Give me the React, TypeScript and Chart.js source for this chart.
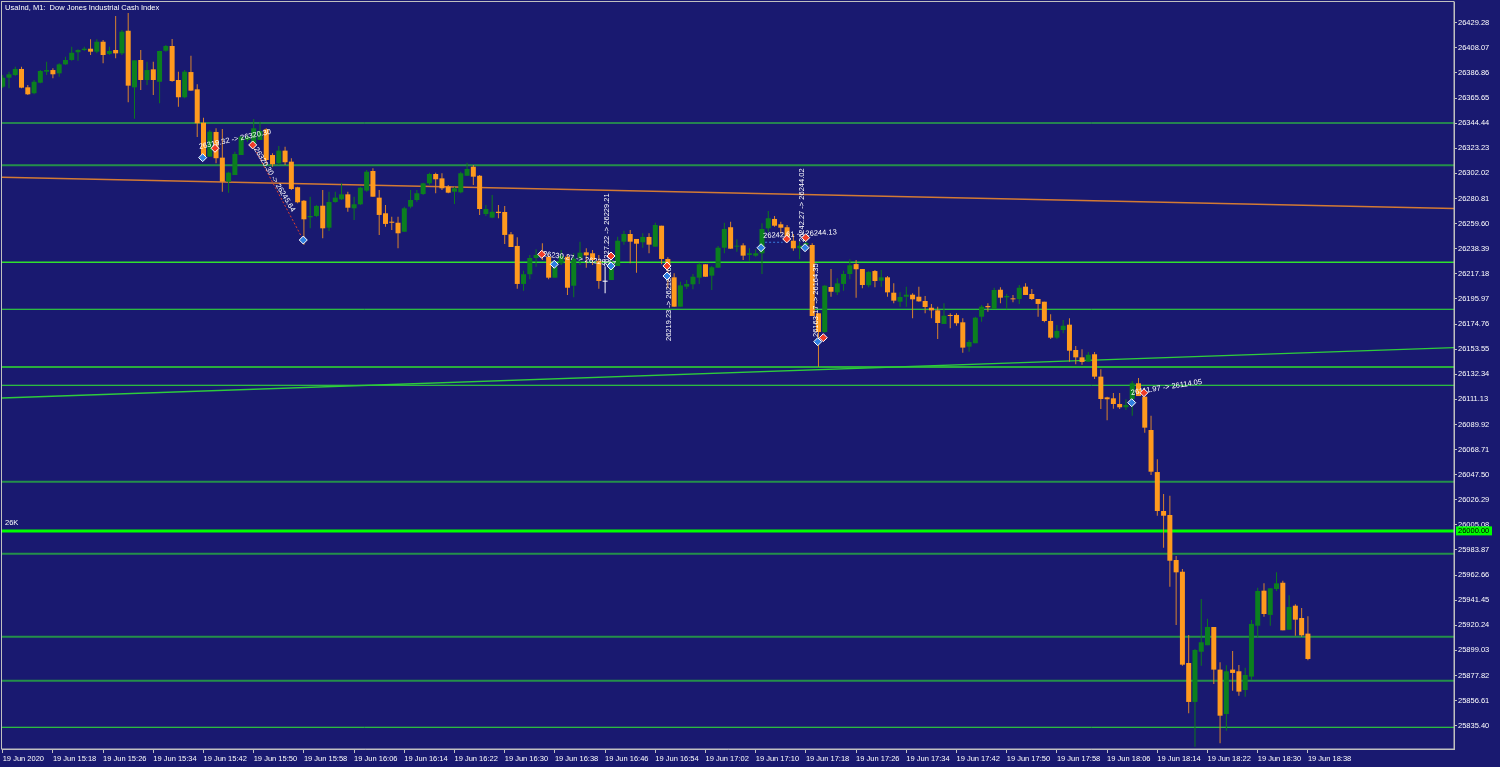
import { useEffect, useRef } from "react";
import { Chart, registerables } from "chart.js";

Chart.register(...registerables);

// ---- Candle data (USA30 / Dow Jones, M1, 19 Jun 2020 15:10 .. 18:38) ----
const OPEN = [
  26375.2, 26382.8, 26385.1, 26390.2, 26374.7, 26369.7, 26378.6, 26387.9, 26389.3, 26386.5,
  26394.1, 26397.8, 26404.3, 26406.2, 26407.3, 26404.8, 26413.2, 26402.9, 26406.2, 26403.4,
  26422.5, 26374.7, 26397.8, 26380.9, 26389.9, 26379.4, 26405.6, 26409.6, 26380.9, 26366.3,
  26387.6, 26373.0, 26344.8, 26316.1, 26337.0, 26315.3, 26295.0, 26300.6, 26317.5, 26330.2,
  26327.4, 26330.2, 26339.2, 26317.5, 26310.5, 26321.2, 26311.9, 26290.3, 26278.9, 26264.9,
  26266.0, 26274.7, 26256.1, 26277.8, 26280.1, 26284.3, 26272.5, 26275.9, 26287.4, 26304.0,
  26281.5, 26268.3, 26261.2, 26260.3, 26252.7, 26273.9, 26279.5, 26284.6, 26293.6, 26301.5,
  26297.8, 26290.8, 26286.5, 26286.0, 26300.0, 26307.6, 26300.0, 26267.7, 26264.6, 26269.6,
  26269.4, 26250.5, 26240.7, 26208.6, 26216.8, 26230.5, 26235.8, 26231.6, 26213.9, 26226.0,
  26231.6, 26207.1, 26230.3, 26235.3, 26234.5, 26228.2, 26210.5, 26211.9, 26223.8, 26244.3,
  26250.8, 26246.6, 26243.8, 26248.3, 26240.1, 26257.8, 26229.7, 26214.2, 26189.4, 26206.3,
  26208.3, 26213.9, 26225.2, 26215.6, 26222.3, 26239.2, 26256.5, 26240.1, 26241.2, 26233.1,
  26232.5, 26234.5, 26255.6, 26263.5, 26259.0, 26256.5, 26245.1, 26238.7, 26241.7, 26241.5,
  26183.8, 26168.0, 26206.0, 26201.5, 26208.6, 26217.0, 26225.4, 26221.2, 26207.5, 26219.5,
  26211.3, 26214.2, 26201.2, 26193.6, 26197.8, 26199.5, 26197.8, 26194.2, 26188.5, 26186.3,
  26174.8, 26182.4, 26182.4, 26176.2, 26155.6, 26158.5, 26180.9, 26190.0, 26187.4, 26203.7,
  26197.3, 26196.2, 26195.9, 26206.3, 26200.1, 26195.9, 26193.6, 26177.3, 26163.2, 26169.7,
  26174.2, 26152.8, 26146.6, 26142.9, 26149.2, 26130.3, 26112.8, 26112.0, 26107.2, 26104.4,
  26111.2, 26124.7, 26113.4, 26085.2, 26049.7, 26016.8, 26013.4, 25975.4, 25965.5, 25888.4,
  25855.5, 25897.9, 25903.4, 25918.8, 25882.8, 25845.3, 25882.8, 25881.4, 25865.6, 25876.9,
  25919.9, 25949.5, 25929.0, 25950.9, 25956.2, 25916.5, 25936.8, 25926.4, 25913.2,
];
const HIGH = [
  26385.1, 26387.9, 26392.1, 26392.1, 26376.7, 26380.9, 26389.3, 26396.3, 26390.8, 26395.0,
  26400.6, 26409.0, 26406.8, 26409.0, 26415.3, 26415.3, 26414.7, 26409.0, 26434.9, 26423.1,
  26437.5, 26397.5, 26406.2, 26396.3, 26396.3, 26405.6, 26410.5, 26415.5, 26387.9, 26389.3,
  26401.4, 26377.3, 26349.0, 26338.7, 26340.1, 26339.5, 26303.4, 26320.3, 26333.6, 26334.4,
  26347.9, 26345.7, 26340.1, 26319.0, 26325.1, 26324.5, 26314.8, 26290.8, 26279.5, 26282.3,
  26275.3, 26288.0, 26286.5, 26286.5, 26293.6, 26286.5, 26282.3, 26290.8, 26304.9, 26306.3,
  26288.0, 26275.3, 26265.4, 26265.4, 26273.9, 26288.0, 26288.0, 26294.1, 26302.6, 26302.6,
  26302.1, 26292.2, 26290.8, 26303.4, 26311.0, 26309.1, 26300.6, 26275.3, 26283.7, 26275.3,
  26274.5, 26252.5, 26248.0, 26219.8, 26233.1, 26237.9, 26242.9, 26233.6, 26227.1, 26237.3,
  26233.1, 26234.5, 26244.3, 26238.7, 26237.3, 26233.1, 26223.2, 26233.1, 26248.5, 26253.6,
  26254.2, 26246.6, 26251.4, 26251.4, 26260.3, 26257.8, 26231.1, 26217.6, 26210.5, 26211.9,
  26217.0, 26226.5, 26225.2, 26223.8, 26240.7, 26260.3, 26261.2, 26246.3, 26242.9, 26238.7,
  26237.9, 26259.8, 26270.2, 26266.0, 26261.2, 26258.4, 26250.8, 26244.3, 26247.4, 26242.9,
  26183.8, 26207.7, 26221.2, 26213.4, 26219.8, 26229.4, 26228.8, 26221.2, 26219.5, 26220.4,
  26220.4, 26215.3, 26209.1, 26201.6, 26206.3, 26200.7, 26206.3, 26198.4, 26191.7, 26189.4,
  26192.3, 26183.8, 26183.8, 26179.6, 26161.3, 26180.9, 26190.8, 26192.3, 26205.4, 26205.8,
  26200.1, 26199.3, 26207.7, 26209.1, 26204.3, 26195.9, 26193.6, 26183.0, 26173.9, 26178.1,
  26179.6, 26156.2, 26153.4, 26151.1, 26151.1, 26136.5, 26113.4, 26116.5, 26116.5, 26111.2,
  26126.6, 26129.2, 26113.4, 26097.3, 26060.5, 26031.2, 26029.7, 25978.8, 25967.8, 25912.1,
  25900.2, 25942.5, 25925.8, 25918.8, 25889.0, 25886.5, 25898.5, 25886.7, 25884.4, 25924.7,
  25952.0, 25955.7, 25951.5, 25965.0, 25957.9, 25945.6, 25938.0, 25934.9, 25927.9,
];
const LOW = [
  26374.1, 26373.9, 26384.3, 26373.9, 26368.2, 26368.8, 26378.1, 26385.1, 26382.3, 26383.7,
  26393.6, 26397.2, 26397.2, 26405.4, 26402.0, 26403.4, 26395.0, 26402.0, 26399.2, 26402.0,
  26362.0, 26348.2, 26372.4, 26376.7, 26368.2, 26361.2, 26404.8, 26379.4, 26358.3, 26365.4,
  26371.9, 26332.7, 26314.8, 26316.1, 26310.5, 26286.5, 26285.7, 26300.6, 26317.5, 26328.8,
  26323.4, 26330.2, 26309.1, 26307.7, 26309.1, 26309.1, 26288.0, 26276.7, 26241.5, 26255.6,
  26265.2, 26247.2, 26253.3, 26277.2, 26279.5, 26269.6, 26262.6, 26275.3, 26286.5, 26282.3,
  26250.0, 26257.0, 26254.2, 26238.7, 26252.5, 26272.5, 26278.1, 26283.7, 26292.2, 26285.2,
  26288.0, 26285.2, 26276.1, 26285.2, 26299.8, 26292.2, 26266.9, 26266.0, 26264.1, 26264.1,
  26242.3, 26239.8, 26204.6, 26202.9, 26212.5, 26223.2, 26228.8, 26212.5, 26213.9, 26224.6,
  26199.3, 26197.3, 26224.6, 26222.3, 26224.6, 26204.6, 26200.7, 26211.9, 26223.8, 26241.7,
  26226.0, 26218.1, 26239.2, 26234.5, 26240.1, 26225.2, 26204.9, 26189.4, 26189.4, 26204.3,
  26204.1, 26208.6, 26214.7, 26203.5, 26222.3, 26234.5, 26238.4, 26235.8, 26228.8, 26228.2,
  26231.6, 26217.0, 26252.7, 26257.0, 26251.4, 26244.3, 26236.7, 26229.4, 26237.3, 26181.5,
  26138.7, 26167.4, 26197.8, 26199.3, 26202.9, 26212.5, 26196.9, 26205.0, 26205.8, 26205.8,
  26206.3, 26197.8, 26192.3, 26189.4, 26189.4, 26179.6, 26193.6, 26183.8, 26179.6, 26162.1,
  26174.8, 26171.1, 26173.3, 26150.5, 26151.4, 26158.5, 26176.7, 26185.2, 26187.4, 26192.3,
  26187.2, 26193.1, 26191.7, 26199.3, 26195.0, 26180.9, 26176.2, 26162.1, 26162.1, 26166.9,
  26142.9, 26140.7, 26140.4, 26142.9, 26128.3, 26102.9, 26093.4, 26103.2, 26103.0, 26102.1,
  26097.3, 26113.9, 26082.9, 26047.2, 26012.8, 25985.8, 25952.9, 25920.5, 25886.1, 25845.9,
  25817.7, 25886.1, 25903.4, 25870.7, 25820.6, 25831.2, 25865.0, 25860.8, 25859.9, 25874.1,
  25910.1, 25927.5, 25919.9, 25949.2, 25916.0, 25916.5, 25911.5, 25910.6, 25890.7,
];
const CLOSE = [
  26382.8, 26385.7, 26390.2, 26374.4, 26368.8, 26379.4, 26388.5, 26389.3, 26385.7, 26394.1,
  26397.8, 26403.9, 26406.2, 26407.3, 26404.8, 26413.2, 26402.0, 26405.4, 26403.4, 26421.7,
  26376.1, 26397.5, 26380.9, 26389.3, 26380.9, 26405.4, 26409.6, 26380.0, 26366.3, 26387.9,
  26371.9, 26344.3, 26316.1, 26337.2, 26314.8, 26295.0, 26302.6, 26318.4, 26333.0, 26333.0,
  26340.1, 26337.8, 26313.3, 26309.7, 26321.2, 26311.4, 26288.8, 26277.6, 26263.2, 26266.0,
  26274.5, 26255.6, 26277.8, 26281.5, 26284.3, 26273.0, 26275.9, 26289.9, 26303.4, 26282.3,
  26266.9, 26259.3, 26260.3, 26251.4, 26272.5, 26279.5, 26285.2, 26293.6, 26301.5, 26297.0,
  26289.4, 26285.7, 26289.4, 26302.1, 26305.7, 26299.2, 26271.9, 26271.9, 26269.6, 26268.5,
  26250.0, 26239.8, 26208.6, 26216.8, 26230.5, 26233.1, 26231.9, 26213.9, 26223.2, 26232.2,
  26205.4, 26229.9, 26235.0, 26232.8, 26228.8, 26211.1, 26210.5, 26221.8, 26245.1, 26250.8,
  26244.3, 26242.6, 26248.3, 26241.8, 26258.4, 26229.7, 26223.2, 26189.4, 26207.4, 26208.6,
  26214.7, 26225.2, 26214.7, 26222.7, 26239.2, 26255.0, 26238.4, 26240.9, 26232.5, 26234.5,
  26234.5, 26255.0, 26264.1, 26257.8, 26256.1, 26248.0, 26238.7, 26240.9, 26243.2, 26181.5,
  26168.0, 26207.1, 26202.0, 26209.1, 26217.0, 26224.4, 26221.0, 26207.7, 26218.7, 26211.1,
  26214.2, 26201.5, 26194.5, 26197.6, 26199.5, 26195.6, 26193.9, 26189.1, 26186.3, 26175.6,
  26181.8, 26181.5, 26175.4, 26154.8, 26159.6, 26180.1, 26189.4, 26188.9, 26203.5, 26197.0,
  26198.4, 26195.6, 26205.4, 26199.3, 26195.9, 26191.7, 26177.3, 26163.2, 26168.9, 26173.3,
  26152.2, 26146.6, 26142.7, 26148.8, 26130.3, 26111.4, 26111.2, 26107.2, 26104.4, 26106.4,
  26124.7, 26113.9, 26087.2, 26050.0, 26016.8, 26012.8, 25974.8, 25965.0, 25887.0, 25855.5,
  25899.4, 25905.9, 25918.8, 25882.8, 25843.9, 25881.4, 25880.0, 25864.2, 25878.3, 25921.4,
  25949.2, 25929.8, 25951.5, 25955.7, 25916.0, 25935.7, 25925.0, 25911.8, 25891.8,
];

// ---- Axis ticks ----
const PRICE_TICKS = [
  25835.40, 25856.61, 25877.82, 25899.03, 25920.24, 25941.45, 25962.66, 25983.87, 26005.08,
  26026.29, 26047.50, 26068.71, 26089.92, 26111.13, 26132.34, 26153.55, 26174.76, 26195.97,
  26217.18, 26238.39, 26259.60, 26280.81, 26302.02, 26323.23, 26344.44, 26365.65, 26386.86,
  26408.07, 26429.28,
];
const TIME_TICK_BARS = [
  0, 8, 16, 24, 32, 40, 48, 56, 64, 72, 80, 88, 96, 104, 112, 120, 128, 136, 144, 152, 160,
  168, 176, 184, 192, 200, 208,
];
const TIME_TICK_LABELS = [
  "19 Jun 2020", "19 Jun 15:18", "19 Jun 15:26", "19 Jun 15:34", "19 Jun 15:42", "19 Jun 15:50",
  "19 Jun 15:58", "19 Jun 16:06", "19 Jun 16:14", "19 Jun 16:22", "19 Jun 16:30", "19 Jun 16:38",
  "19 Jun 16:46", "19 Jun 16:54", "19 Jun 17:02", "19 Jun 17:10", "19 Jun 17:18", "19 Jun 17:26",
  "19 Jun 17:34", "19 Jun 17:42", "19 Jun 17:50", "19 Jun 17:58", "19 Jun 18:06", "19 Jun 18:14",
  "19 Jun 18:22", "19 Jun 18:30", "19 Jun 18:38",
];

// ---- Horizontal levels ----
const LEVEL_PRICES = [
  26344.55, 26308.9, 26226.9, 26187.2, 26138.4, 26123.0, 26041.5, 26000.0, 25980.7, 25910.6,
  25873.4, 25834.1,
];
const LEVEL_KIND = [
  "thin", "dark", "mid", "thin", "mid", "thin", "dark", "main", "dark", "dark", "dark", "thin",
];

// ---- Trend lines (bar index, price) ----
const TREND_UPPER_BARS = [-1, 232];
const TREND_UPPER_PRICES = [26298.8, 26272.2];
const TREND_LOWER_BARS = [-1, 232];
const TREND_LOWER_PRICES = [26112.1, 26154.9];

// ---- Trade history marks ----
const MARK_BARS = [31.87, 33.83, 39.84, 47.9, 85.9, 87.9, 96.94, 96.94, 105.86, 105.86, 120.85, 124.94, 127.97, 127.86, 130.77, 129.88, 179.92, 181.88];
const MARK_PRICES = [26315.3, 26323.2, 26326.0, 26245.7, 26233.6, 26225.2, 26232.2, 26223.8, 26223.8, 26215.3, 26239.2, 26246.6, 26247.7, 26239.2, 26163.2, 26159.8, 26108.3, 26116.7];
const MARK_SIDES = ["buy", "sell", "sell", "buy", "sell", "buy", "sell", "buy", "sell", "buy", "buy", "sell", "sell", "buy", "sell", "buy", "buy", "sell"];

const NOTE_TEXTS = [
  "26319.32 -> 26320.30",
  "26320.30 -> 26245.64",
  "26230.27 -> 26225.17",
  "26227.22 -> 26229.21",
  "26219.23 -> 26218.16",
  "26242.27 -> 26244.02",
  "26242.61 -> 26244.13",
  "26163.17 -> 26164.35",
  "26111.97 -> 26114.05",
];
const NOTE_BARS = [31.28, 40.29, 86.1, 96.3, 106.2, 127.4, 121.2, 129.6, 179.8];
const NOTE_PRICES = [26324.3, 26323.4, 26233.9, 26222.9, 26160.4, 26244.0, 26249.1, 26163.8, 26116.5];
const NOTE_ANGLES = [-12, 59, 8, -90, -90, -90, -3, -90, -9];

const LINK_BARS = [[39.84, 47.9], [121.5, 124.3]];
const LINK_PRICES = [[26326.0, 26245.7], [26243.8, 26243.8]];
const LINK_SIDES = ["sell", "buy"];

// ---- Styling ----
const NAVY = "#191970";
const AXIS_GRAY = "#c0c0c0";
const TEXT_COLOR = "#ffffff";
const ORANGE_BODY = "#ff9a1e";
const ORANGE_WICK = "#d9832c";
const GREEN_BODY = "#0b7f1f";
const GREEN_WICK = "#0d7a1c";
const FONT = "'Liberation Sans', Arial, sans-serif";
const FONT_SIZE = 7.5;
const X_MIN = -0.1116;
const X_MAX = 231.28;
const Y_MIN = 25815.75;
const Y_MAX = 26446.77;

const levelStyle = (k: string) => {
  if (k === "main") return { color: "#00ff00", width: 3 };
  if (k === "dark") return { color: "#24904a", width: 2 };
  if (k === "mid") return { color: "#2fe02f", width: 1.4 };
  return { color: "#33ee33", width: 1 };
};

const bgPlugin = {
  id: "mtBackground",
  beforeDraw(chart: any) {
    const ctx = chart.ctx;
    ctx.save();
    ctx.fillStyle = NAVY;
    ctx.fillRect(0, 0, chart.width, chart.height);
    ctx.restore();
  },
};

const overlayPlugin = {
  id: "mtOverlay",
  afterDatasetsDraw(chart: any) {
    const ctx = chart.ctx;
    const xs = chart.scales.x;
    const ys = chart.scales.y;
    const area = chart.chartArea;
    ctx.save();
    ctx.beginPath();
    ctx.rect(area.left, area.top, area.right - area.left, area.bottom - area.top);
    ctx.clip();

    // links (dotted)
    LINK_BARS.forEach((bars, k) => {
      ctx.beginPath();
      ctx.setLineDash([2, 2]);
      ctx.lineWidth = 1;
      ctx.strokeStyle = LINK_SIDES[k] === "sell" ? "#e0402a" : "#3a7ee0";
      ctx.moveTo(xs.getPixelForValue(bars[0]), ys.getPixelForValue(LINK_PRICES[k][0]));
      ctx.lineTo(xs.getPixelForValue(bars[1]), ys.getPixelForValue(LINK_PRICES[k][1]));
      ctx.stroke();
    });
    ctx.setLineDash([]);

    // texts
    ctx.font = `${FONT_SIZE}px ${FONT}`;
    ctx.fillStyle = TEXT_COLOR;
    ctx.textBaseline = "middle";
    ctx.textAlign = "left";
    NOTE_TEXTS.forEach((t, k) => {
      const x = xs.getPixelForValue(NOTE_BARS[k]);
      const y = ys.getPixelForValue(NOTE_PRICES[k]);
      ctx.save();
      ctx.translate(x, y);
      ctx.rotate((NOTE_ANGLES[k] * Math.PI) / 180);
      ctx.fillText(t, 0, 0);
      ctx.restore();
    });

    // diamonds
    MARK_BARS.forEach((b, k) => {
      const x = xs.getPixelForValue(b);
      const y = ys.getPixelForValue(MARK_PRICES[k]);
      const r = 4;
      ctx.beginPath();
      ctx.moveTo(x, y - r);
      ctx.lineTo(x + r, y);
      ctx.lineTo(x, y + r);
      ctx.lineTo(x - r, y);
      ctx.closePath();
      ctx.fillStyle = MARK_SIDES[k] === "sell" ? "#f03c28" : "#2f7fe0";
      ctx.fill();
      ctx.lineWidth = 1;
      ctx.strokeStyle = "#ffffff";
      ctx.stroke();
    });

    // level caption
    ctx.fillStyle = TEXT_COLOR;
    ctx.fillText("26K", 5, ys.getPixelForValue(26000) - 8);
    ctx.restore();
  },
  afterDraw(chart: any) {
    const ctx = chart.ctx;
    const area = chart.chartArea;
    const ys = chart.scales.y;
    ctx.save();
    // frame
    ctx.strokeStyle = AXIS_GRAY;
    ctx.lineWidth = 1;
    ctx.strokeRect(area.left - 0.5, area.top - 0.5, area.right - area.left + 0.5, area.bottom - area.top + 0.5);
    // title
    ctx.font = `${FONT_SIZE}px ${FONT}`;
    ctx.fillStyle = TEXT_COLOR;
    ctx.textBaseline = "middle";
    ctx.textAlign = "left";
    ctx.fillText("UsaInd, M1:  Dow Jones Industrial Cash Index", 5, 8);
    // current level label on axis
    const y = ys.getPixelForValue(26000);
    ctx.fillStyle = "#00ff00";
    ctx.fillRect(area.right + 2, y - 4.5, 36, 9);
    ctx.fillStyle = "#000000";
    ctx.fillText("26000.00", area.right + 4, y);
    ctx.restore();
  },
};

export default function App() {
  const ref = useRef<HTMLCanvasElement>(null);

  useEffect(() => {
    document.body.style.margin = "0";
    document.body.style.background = NAVY;
    const canvas = ref.current;
    if (!canvas) return;
    Chart.defaults.font.family = FONT;
    Chart.defaults.font.size = FONT_SIZE;

    const n = OPEN.length;
    const bars = Array.from({ length: n }, (_, i) => i);
    const isUp = bars.map((i) => CLOSE[i] > OPEN[i]);
    const isDoji = bars.map((i) => CLOSE[i] === OPEN[i]);
    const bodyColors = bars.map((i) => (isDoji[i] ? "#ffffff" : isUp[i] ? GREEN_BODY : ORANGE_BODY));
    const wickColors = bars.map((i) => (isDoji[i] ? "#ffffff" : isUp[i] ? GREEN_WICK : ORANGE_WICK));

    const levelSets = LEVEL_PRICES.map((p, k) => {
      const st = levelStyle(LEVEL_KIND[k]);
      return {
        type: "line" as const,
        data: [
          { x: X_MIN - 1, y: p },
          { x: X_MAX + 1, y: p },
        ],
        borderColor: st.color,
        borderWidth: st.width,
        pointRadius: 0,
        tension: 0,
        order: 10,
      };
    });

    const trendSets = [
      {
        type: "line" as const,
        data: TREND_UPPER_BARS.map((b, k) => ({ x: b, y: TREND_UPPER_PRICES[k] })),
        borderColor: "#d47a34",
        borderWidth: 1.5,
        pointRadius: 0,
        tension: 0,
        order: 9,
      },
      {
        type: "line" as const,
        data: TREND_LOWER_BARS.map((b, k) => ({ x: b, y: TREND_LOWER_PRICES[k] })),
        borderColor: "#2ecc3c",
        borderWidth: 1.3,
        pointRadius: 0,
        tension: 0,
        order: 9,
      },
    ];

    const chart = new Chart(canvas, {
      type: "bar",
      data: {
        datasets: [
          {
            type: "bar" as const,
            data: bars.map((i) => ({ x: i, y: [Math.min(OPEN[i], CLOSE[i]), Math.max(OPEN[i], CLOSE[i])] })) as any,
            backgroundColor: bodyColors,
            borderWidth: 0,
            barThickness: 5,
            minBarLength: 1,
            grouped: false,
            inflateAmount: 0,
            order: 0,
          },
          {
            type: "bar" as const,
            data: bars.map((i) => ({ x: i, y: [LOW[i], HIGH[i]] })) as any,
            backgroundColor: wickColors,
            borderWidth: 0,
            barThickness: 1,
            minBarLength: 1,
            grouped: false,
            inflateAmount: 0,
            order: 1,
          },
          ...trendSets,
          ...levelSets,
        ] as any,
      },
      options: {
        responsive: false,
        animation: false,
        devicePixelRatio: 1,
        events: [],
        layout: { padding: { left: 2, top: 2, right: 0, bottom: 0 } },
        plugins: { legend: { display: false }, tooltip: { enabled: false } },
        scales: {
          x: {
            type: "linear",
            min: X_MIN,
            max: X_MAX,
            offset: false,
            position: "bottom",
            afterBuildTicks: (s: any) => {
              s.ticks = TIME_TICK_BARS.map((v) => ({ value: v }));
            },
            afterFit: (s: any) => {
              s.height = 18;
              s.paddingLeft = 0;
              s.paddingRight = 0;
              s.paddingTop = 0;
              s.paddingBottom = 0;
            },
            ticks: {
              autoSkip: false,
              maxRotation: 0,
              minRotation: 0,
              align: "start",
              color: TEXT_COLOR,
              padding: 1,
              font: { size: FONT_SIZE, family: FONT },
              callback: (_v: any, idx: number) => TIME_TICK_LABELS[idx] ?? "",
            },
            grid: { drawOnChartArea: false, drawTicks: true, tickLength: 4, color: AXIS_GRAY, offset: false },
            border: { display: true, color: AXIS_GRAY },
          },
          y: {
            type: "linear",
            position: "right",
            min: Y_MIN,
            max: Y_MAX,
            beginAtZero: false,
            afterBuildTicks: (s: any) => {
              s.ticks = PRICE_TICKS.map((v) => ({ value: v }));
            },
            afterFit: (s: any) => {
              s.width = 46;
              s.paddingTop = 0;
              s.paddingBottom = 0;
              s.paddingLeft = 0;
              s.paddingRight = 0;
            },
            ticks: {
              color: TEXT_COLOR,
              padding: 1,
              font: { size: FONT_SIZE, family: FONT },
              callback: (v: any) => Number(v).toFixed(2),
            },
            grid: { drawOnChartArea: false, drawTicks: true, tickLength: 3, color: AXIS_GRAY },
            border: { display: true, color: AXIS_GRAY },
          },
        },
      } as any,
      plugins: [bgPlugin, overlayPlugin],
    });

    return () => chart.destroy();
  }, []);

  return (
    <div style={{ position: "fixed", left: 0, top: 0, width: 1500, height: 767, background: NAVY }}>
      <canvas ref={ref} width={1500} height={767} style={{ display: "block", width: 1500, height: 767 }} />
    </div>
  );
}
